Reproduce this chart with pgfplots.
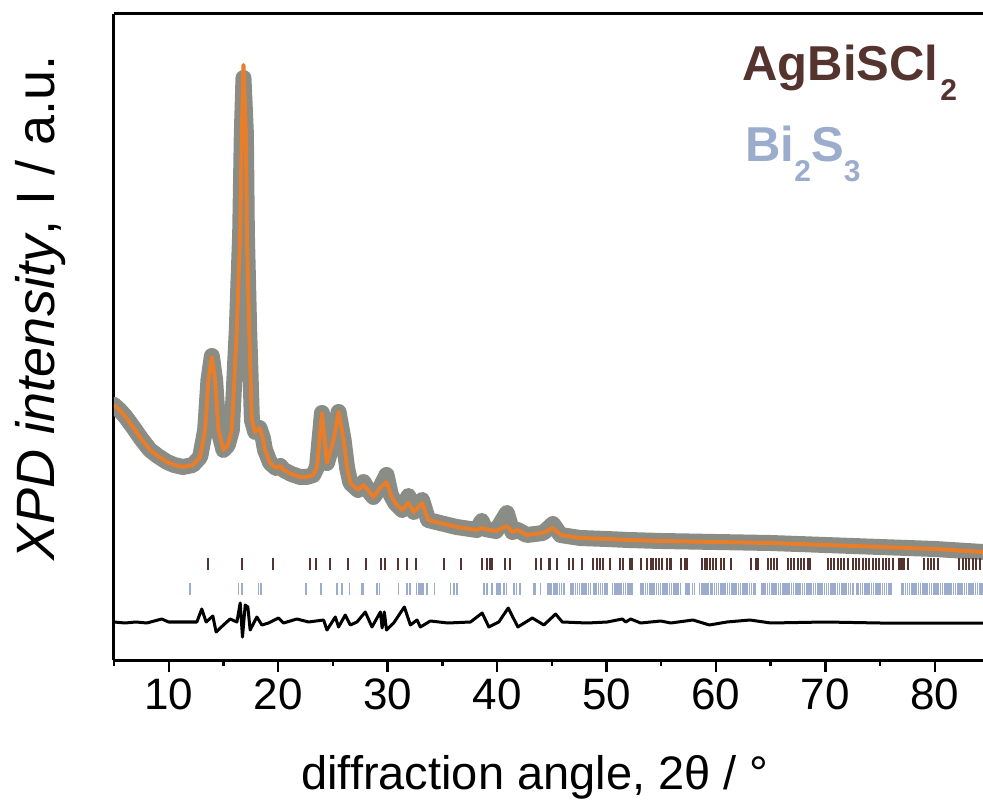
\documentclass[border=0pt]{standalone}
\usepackage{pgfplots}
\pgfplotsset{compat=1.18}
\usepackage{pgfplotstable}
\usepackage{fontspec}
\setmainfont{Liberation Sans}
\definecolor{obsgray}{HTML}{8A8C86}
\definecolor{fitorange}{HTML}{E87D2A}
\definecolor{agbrown}{HTML}{553430}
\definecolor{bsblue}{HTML}{9BACCD}

\pgfplotstableread{
x y
5.0 255
5.5 250
6.0 244
6.74 233
7.5 221
8.29 210
9.0 204
9.85 198
10.5 195
11.3 193
12.2 195
12.87 203
13.33 230
13.63 280
13.94 303
14.24 280
14.54 230
15.0 210
15.4 215
15.77 230
16.07 297
16.22 330
16.53 427
16.68 527
16.83 595
17.05 527
17.14 427
17.35 330
17.6 240
17.9 228
18.3 232
18.6 222
18.8 210
19.27 197
19.8 192
20.2 194
20.5 190
21.2 186
22.0 183
22.6 183
23.2 185
23.55 193
24.0 247
24.46 197
25.06 220
25.52 248
25.98 220
26.3 192
26.6 177
27.3 170
27.8 175
28.2 170
28.7 163
29.3 172
29.9 178
30.3 165
30.7 157
31.32 150
31.9 157
32.4 148
33.15 157
33.7 140
34.8 137
36.3 133
38.15 130
38.6 132
38.9 131
39.9 129
40.9 134
41.4 128
41.9 130
42.7 125
44.2 127
45.1 132
45.8 125
47.6 122
50.0 121
52.0 120
55.0 119
60.0 118
65.0 117
70.0 115
75.0 113
80.0 111
84.4 108
}\fittab

\pgfplotstableread{
x y
5.0 255
5.5 250
6.0 244
6.74 233
7.5 221
8.29 210
9.0 204
9.85 198
10.5 195
11.3 193
12.2 195
12.87 203
13.33 230
13.63 280
13.94 304
14.24 280
14.54 230
15.0 210
15.4 215
15.77 230
16.07 297
16.22 330
16.53 427
16.68 527
16.83 582
17.05 527
17.14 427
17.35 330
17.6 240
17.9 228
18.3 232
18.6 222
18.8 210
19.27 197
19.8 192
20.2 194
20.5 190
21.2 186
22.0 183
22.6 183
23.2 185
23.55 193
24.0 247
24.46 197
25.06 220
25.52 248
25.98 220
26.3 192
26.6 177
27.3 170
27.8 178
28.2 170
28.7 163
29.3 172
29.9 185
30.3 165
30.7 157
31.32 150
31.9 164
32.4 148
33.15 160
33.7 140
34.8 137
36.3 133
38.15 130
38.6 139
38.9 131
39.9 129
40.9 147
41.4 128
41.9 130
42.7 125
44.2 127
45.1 136
45.8 125
47.6 122
50.0 121
52.0 120
55.0 119
60.0 118
65.0 117
70.0 115
75.0 113
80.0 111
84.4 108
}\obstab

\pgfplotstableread{
x y
5.0 38
6.0 37
7.0 38
8.0 37
9.36 41
10.0 38
11.04 38
12.57 38
13.02 51
13.42 38
14.03 44
14.33 28
15.0 35
15.61 41
16.23 38
16.53 57
16.74 23
16.99 55
17.23 53
17.44 30
18.05 43
18.51 35
19.12 37
20.03 42
20.49 37
21.71 41
22.78 38
24.15 40
24.46 30
25.22 43
25.52 33
26.13 45
26.59 35
27.2 38
27.96 48
28.57 33
29.34 48
29.5 32
29.7 48
29.9 30
30.55 37
31.53 53
32.08 35
32.69 40
32.99 33
33.91 39
35.5 37
37.57 38
38.64 47
39.25 33
40.16 38
41.02 52
41.9 33
43.22 42
44.28 35
45.35 46
45.96 38
48.25 37
50.07 38
51.45 41
51.75 38
52.21 41
53.12 37
54.95 39
55.87 37
57.9 40
59.4 35
61.0 38
63.1 40
65.0 37
70.0 38
75.0 37
80.0 37
84.4 37
}\difftab

\pgfplotstableread{
x y
13.63 96
16.68 96
19.52 96
22.87 96
23.48 96
24.76 96
26.41 96
28.06 96
29.43 96
29.79 96
30.92 96
31.78 96
32.63 96
35.13 96
36.75 96
38.58 96
39.10 96
39.34 96
39.56 96
40.71 96
41.17 96
43.52 96
43.98 96
44.74 96
44.83 96
45.50 96
46.57 96
46.96 96
47.79 96
48.79 96
49.10 96
49.40 96
49.71 96
50.32 96
51.23 96
51.54 96
52.15 96
52.36 96
53.12 96
53.67 96
54.04 96
54.28 96
54.50 96
54.80 96
55.11 96
55.56 96
55.81 96
55.93 96
56.78 96
57.15 96
57.33 96
58.77 96
58.98 96
59.22 96
59.47 96
59.77 96
59.99 96
60.44 96
60.69 96
61.36 96
63.19 96
63.65 96
63.80 96
64.71 96
65.02 96
65.32 96
65.57 96
66.54 96
66.85 96
67.15 96
67.46 96
67.76 96
68.07 96
68.37 96
68.62 96
70.20 96
70.51 96
70.81 96
71.12 96
71.42 96
71.73 96
72.03 96
72.49 96
72.79 96
73.10 96
73.41 96
73.71 96
74.01 96
74.32 96
74.62 96
74.93 96
75.23 96
75.54 96
75.84 96
76.15 96
76.76 96
76.91 96
77.06 96
77.22 96
77.52 96
79.05 96
79.35 96
79.66 96
79.96 96
80.27 96
82.25 96
82.55 96
82.86 96
83.16 96
83.47 96
83.77 96
84.08 96
}\browntab

\pgfplotstableread{
x y
11.95 71
16.37 71
16.68 71
18.20 71
18.45 71
22.57 71
23.94 71
25.38 71
25.83 71
26.53 71
27.66 71
27.81 71
29.04 71
29.27 71
31.01 71
31.78 71
32.02 71
32.63 71
32.84 71
33.06 71
33.24 71
33.61 71
34.30 71
35.74 71
36.04 71
36.35 71
38.79 71
39.10 71
39.56 71
40.01 71
40.16 71
40.32 71
40.62 71
40.86 71
41.53 71
41.78 71
42.08 71
43.36 71
43.52 71
43.98 71
44.59 71
44.75 71
44.95 71
45.15 71
45.3 71
45.5 71
45.7 71
45.9 71
46.1 71
46.75 71
46.95 71
47.15 71
47.35 71
47.55 71
47.75 71
47.95 71
48.15 71
48.35 71
48.55 71
48.85 71
49.05 71
49.25 71
49.45 71
49.65 71
49.85 71
50.05 71
50.55 71
50.75 71
50.95 71
51.15 71
51.35 71
51.55 71
51.75 71
51.95 71
52.15 71
52.35 71
53.15 71
53.35 71
53.55 71
53.75 71
53.95 71
54.15 71
54.35 71
54.55 71
54.75 71
54.95 71
55.15 71
55.35 71
55.55 71
55.75 71
55.95 71
56.15 71
56.35 71
56.55 71
56.75 71
57.25 71
57.4 71
57.55 71
57.85 71
58.05 71
58.5 71
58.7 71
58.9 71
59.1 71
59.3 71
59.5 71
59.65 71
59.85 71
60.05 71
60.25 71
60.45 71
60.65 71
60.85 71
61.05 71
61.25 71
61.45 71
61.65 71
61.85 71
62.05 71
62.25 71
62.45 71
62.65 71
62.85 71
63.05 71
63.25 71
63.45 71
63.6 71
64.15 71
64.3 71
64.5 71
64.7 71
64.9 71
65.1 71
65.3 71
65.5 71
65.7 71
65.9 71
66.1 71
66.3 71
66.5 71
66.7 71
66.9 71
67.1 71
67.3 71
67.5 71
67.7 71
67.9 71
68.1 71
68.3 71
68.5 71
68.7 71
68.9 71
69.1 71
69.3 71
69.5 71
69.7 71
69.9 71
70.1 71
70.3 71
70.5 71
70.7 71
70.9 71
71.1 71
71.3 71
71.5 71
71.7 71
71.9 71
72.1 71
72.3 71
72.5 71
72.85 71
73.0 71
73.2 71
73.4 71
73.6 71
73.8 71
74.0 71
74.2 71
74.4 71
74.6 71
74.8 71
75.0 71
75.2 71
75.4 71
75.6 71
75.8 71
76.0 71
76.95 71
77.1 71
77.3 71
77.5 71
77.7 71
77.9 71
78.1 71
78.3 71
78.5 71
78.7 71
78.9 71
79.1 71
79.3 71
79.5 71
79.7 71
79.9 71
80.1 71
80.3 71
80.5 71
80.7 71
80.9 71
81.1 71
81.3 71
81.5 71
81.7 71
81.9 71
82.1 71
82.3 71
82.5 71
82.7 71
82.9 71
83.1 71
83.3 71
83.5 71
83.7 71
83.9 71
84.1 71
84.3 71
}\bluetab

\begin{document}
\begin{tikzpicture}
\begin{axis}[
  at={(0,0)}, anchor=south west,
  scale only axis, width=434.5pt, height=323pt,
  xmin=5, xmax=84.4, ymin=0, ymax=646,
  axis x line*=box, axis y line*=left,
  axis line style={line width=1.5pt},
  xtick={10,20,...,80}, minor xtick={5,15,...,85},
  xtick pos=bottom, xtick align=outside,
  major tick length=6pt, minor tick length=3pt,
  every tick/.style={black, line width=1.2pt},
  ytick=\empty,
  tick label style={font=\fontsize{22}{26}\selectfont},
  /pgf/number format/assume math mode=true,
  xlabel={diffraction angle, 2θ / °},
  xlabel style={at={(axis description cs:0.4845,-0.2012)}, anchor=base, font=\fontsize{23.5}{28}\selectfont, inner sep=0pt},
  ylabel={\textit{XPD intensity}, I / a.u.},
  ylabel style={at={(axis description cs:-0.0679,0.545)}, anchor=base, rotate=0, font=\fontsize{27}{32}\selectfont, inner sep=0pt},
]
\addplot[obsgray, line width=8pt, line join=round, line cap=round] table[x=x,y=y] {\obstab};
\addplot[fitorange, line width=2pt, line join=round] table[x=x,y=y] {\fittab};
\addplot[black, line width=1.5pt, line join=round] table[x=x,y=y] {\difftab};
\addplot[only marks, mark=|, mark size=3pt, agbrown, mark options={line width=1pt}] table[x=x,y=y] {\browntab};
\addplot[only marks, mark=|, mark size=3pt, bsblue, mark options={line width=0.8pt}] table[x=x,y=y] {\bluetab};
\node[anchor=base west, inner sep=0pt, text=agbrown, font=\bfseries\fontsize{24.5}{28}\selectfont] at (axis description cs:0.7227,0.8978) {AgBiSCl\kern1pt\raisebox{-10pt}{\fontsize{15}{15}\selectfont 2}};
\node[anchor=base west, inner sep=0pt, text=bsblue, font=\bfseries\fontsize{24.5}{28}\selectfont] at (axis description cs:0.7261,0.7714) {Bi\raisebox{-10pt}{\fontsize{15}{15}\selectfont 2}S\raisebox{-10pt}{\fontsize{15}{15}\selectfont 3}};
\end{axis}
\pgfresetboundingbox
\path (-57pt,-76pt) rectangle (434.5pt,330pt);
\end{tikzpicture}
\end{document}
